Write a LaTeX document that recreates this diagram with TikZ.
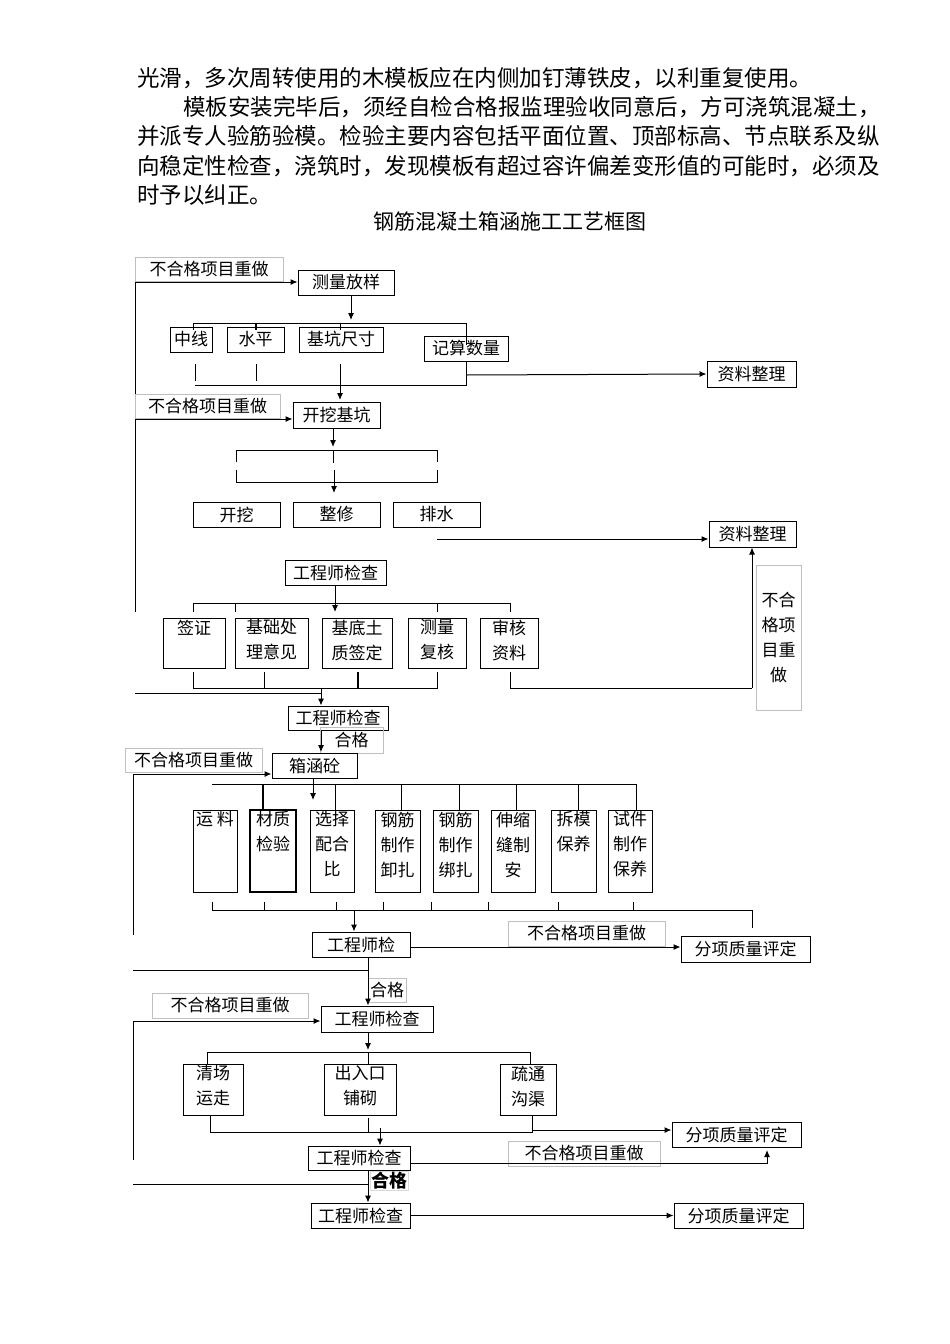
\documentclass[tikz,border=0pt]{standalone}
\usepackage{fontspec}
\setmainfont{Noto Sans CJK SC}
\usetikzlibrary{arrows.meta}
\tikzset{
 bx/.style={draw,line width=1pt,inner sep=0pt,font=\fontsize{17}{24}\selectfont,align=center},
 gl/.style={draw=black!25,line width=0.6pt,inner sep=0pt,font=\fontsize{17}{20}\selectfont},
 ln/.style={line width=0.8pt},
 ar/.style={line width=1pt,-{Latex[length=7pt,width=6pt]}},
 tx/.style={anchor=north,inner sep=2pt,font=\fontsize{17}{25}\selectfont,align=center},
 ptxt/.style={anchor=base west,inner sep=0pt,font=\fontsize{22.5}{28}\selectfont}
}
\newcommand{\bbox}[6]{\node[bx,minimum width=#4-#2,minimum height=#5-#3] (#1) at ({(#2+#4)/2},{(#3+#5)/2}) {#6};}
\newcommand{\tbox}[6]{\node[bx,minimum width=#4-#2,minimum height=#5-#3] (#1) at ({(#2+#4)/2},{(#3+#5)/2}) {};\node[tx] at (#1.north) {#6};}
\newcommand{\gbox}[6]{\node[gl,minimum width=#4-#2,minimum height=#5-#3] (#1) at ({(#2+#4)/2},{(#3+#5)/2}) {#6};}
\begin{document}
\begin{tikzpicture}[x=1pt,y=-1pt]
\XeTeXlinebreaklocale "zh"
\XeTeXlinebreakskip=0pt plus 1pt
\useasboundingbox[fill=white] (0,0) rectangle (950,1344);
% paragraph
\node[ptxt] (p1) at (137,86) {光滑，多次周转使用的木模板应在内侧加钉薄铁皮，以利重复使用。};
\node[ptxt] (p2) at (183,115) {\makebox[699pt][s]{模板安装完毕后，须经自检合格报监理验收同意后，方可浇筑混凝土，}};
\node[ptxt] (p3) at (137,144) {\makebox[745pt][s]{并派专人验筋验模。检验主要内容包括平面位置、顶部标高、节点联系及纵}};
\node[ptxt] (p4) at (137,174) {\makebox[745pt][s]{向稳定性检查，浇筑时，发现模板有超过容许偏差变形值的可能时，必须及}};
\node[ptxt] (p5) at (137,203) {时予以纠正。};
\node[inner sep=0pt,font=\fontsize{21}{26}\selectfont] (title) at (510,222) {钢筋混凝土箱涵施工工艺框图};

% ===== section 1
\gbox{g1}{135}{257}{283}{281}{不合格项目重做}
\bbox{clfy}{298}{270}{394}{295}{测量放样}
\draw[ln] (135,612) -- (135,282);
\draw[ar] (135,282) -- (clfy.west|-0,282);
\draw[ar] (clfy.south-|351,0) -- (351,320);
\draw[ln] (193,330) -- (193,323) -- (466,323) -- (466,345);
\draw[line width=1.6pt] (256,323) -- (256,330);
\draw[ln] (340,323) -- (340,330);
\bbox{zx}{170}{327}{212}{352}{中线}
\bbox{sp}{227}{327}{284}{352}{水平}
\bbox{jk}{299}{327}{383}{352}{基坑尺寸}
\bbox{js}{424}{336}{508}{361}{记算数量}
\bbox{zl1}{707}{361}{796}{387}{资料整理}
\draw[ln] (195,364) -- (195,381);
\draw[ln] (256,364) -- (256,381);
\draw[ln] (195,385) -- (466,385) -- (466,361);
\draw[ar] (466,375) -- (zl1.west);
\gbox{g2}{135}{394}{280}{418}{不合格项目重做}
\bbox{wk}{293}{402}{380}{428}{开挖基坑}
\draw[ar] (135,419) -- (wk.west|-0,419);
\draw[ar] (340,364) -- (340,400);
\draw[ar] (wk.south-|333,0) -- (333,447);
\draw[ln] (236,462) -- (236,450) -- (437,450) -- (437,462);
\draw[ln] (333,450) -- (333,463);
\draw[ln] (236,470) -- (236,482) -- (437,482) -- (437,470);
\draw[ar] (334,470) -- (334,493);
\bbox{kw}{193}{502}{280}{527}{开挖}
\bbox{zxu}{293}{502}{380}{527}{整修}
\bbox{ps}{393}{502}{480}{527}{排水}
\bbox{zl2}{709}{521}{796}{547}{资料整理}
\draw[ar] (437,539) -- (zl2.west|-0,539);
\bbox{gc1}{285}{560}{386}{585}{工程师检查}
\draw[ar] (gc1.south-|335,0) -- (335,612);
\draw[ln] (193,612) -- (193,603) -- (510,603) -- (510,612);
\draw[ln] (235,603) -- (235,612);
\draw[ln] (437,603) -- (437,612);
\tbox{qz}{163}{618}{225}{668}{签证}
\tbox{jc}{235}{618}{308}{668}{基础处\\理意见}
\tbox{jd}{322}{618}{392}{668}{基底土\\质签定}
\tbox{cl}{408}{618}{466}{668}{测量\\复核}
\tbox{sh}{480}{618}{538}{668}{审核\\资料}
\draw[ln] (193,672) -- (193,688) -- (437,688) -- (437,672);
\draw[ln] (264,672) -- (264,688);
\draw[line width=1.4pt] (358,672) -- (358,688);
\draw[ln] (510,672) -- (510,688) -- (752,688);
\draw[ar] (752,688) -- (zl2.south-|752,0);
\node[gl,minimum width=45,minimum height=145,font=\fontsize{17}{25}\selectfont,align=center] (gv) at (778.5,637.5) {不合\\格项\\目重\\做};
\draw[ln] (135,693) -- (321,693);
\bbox{gc2}{288}{706}{388}{730}{工程师检查}
\draw[ar] (321,688) -- (gc2.north-|321,0);

% ===== section 2
\gbox{hg1}{320}{727}{383}{753}{合格}
\draw[ar] (gc2.south-|321,0) -- (321,752);
\gbox{g3}{125}{748}{262}{772}{不合格项目重做}
\bbox{xh}{272}{753}{357}{778}{箱涵砼}
\draw[ln] (133,935) -- (133,774);
\draw[ar] (133,774) -- (xh.west|-0,774);
\draw[ar] (xh.south-|313,0) -- (313,800);
\draw[ln] (212,784) -- (637,784);
\foreach \x in {401,459,516,578,636} \draw[ln] (\x,784) -- (\x,810);
\draw[line width=1.4pt] (263,784) -- (263,810);
\draw[ln] (335,784) -- (335,810);
\tbox{yl}{193}{810}{237}{892}{运 料}
\node[draw,line width=1.8pt,minimum width=46,minimum height=82,inner sep=0pt] (cz) at (273,851) {};\node[tx] at (cz.north) {材质\\检验};
\tbox{xz}{310}{810}{354}{892}{选择\\配合\\比}
\tbox{gj1}{375}{810}{420}{892}{钢筋\\制作\\卸扎}
\tbox{gj2}{433}{810}{478}{892}{钢筋\\制作\\绑扎}
\tbox{ss}{491}{810}{535}{892}{伸缩\\缝制\\安}
\tbox{cm}{551}{810}{596}{892}{拆模\\保养}
\tbox{sj}{608}{810}{652}{892}{试件\\制作\\保养}
\foreach \x in {212,264,336,383,431,488,558,633} \draw[ln] (\x,902) -- (\x,910);
\draw[ln] (212,910) -- (752,910) -- (752,928);
\bbox{gc3}{312}{932}{410}{957}{工程师检}
\draw[ar] (354,910) -- (gc3.north-|354,0);
\gbox{g4}{508}{921}{665}{946}{不合格项目重做}
\bbox{fx1}{681}{936}{810}{962}{分项质量评定}
\draw[ar] (gc3.east|-0,947) -- (fx1.west|-0,947);
\draw[ln] (133,970) -- (368,970);
\gbox{hg2}{368}{978}{406}{1002}{合格}
\bbox{gc4}{321}{1006}{433}{1032}{工程师检查}
\draw[ar] (gc3.south-|368,0) -- (gc4.north-|368,0);
\gbox{g5}{152}{993}{308}{1018}{不合格项目重做}
\draw[ln] (133,1160) -- (133,1021);
\draw[ar] (133,1021) -- (gc4.west|-0,1021);
\draw[ar] (gc4.south-|368,0) -- (368,1050);
\draw[ln] (207,1064) -- (207,1052) -- (530,1052) -- (530,1064);
\draw[ln] (368,1052) -- (368,1064);
\tbox{qc}{183}{1064}{243}{1115}{清场\\运走}
\tbox{cr}{324}{1064}{396}{1115}{出入口\\铺砌}
\tbox{st}{500}{1064}{556}{1115}{疏通\\沟渠}
\draw[ln] (210,1115) -- (210,1132) -- (532,1132) -- (532,1115);
\draw[ln] (368,1118) -- (368,1132);
\bbox{fx2}{672}{1122}{801}{1147}{分项质量评定}
\draw[ar] (532,1130) -- (fx2.west|-0,1130);
\bbox{gc5}{308}{1146}{410}{1170}{工程师检查}
\draw[ar] (380,1128) -- (gc5.north-|380,0);
\gbox{g6}{508}{1141}{660}{1166}{不合格项目重做}
\draw[ar] (gc5.east|-0,1163) -- (767,1163) -- (767,1150);
\draw[ln] (133,1184) -- (368,1184);
\node[draw=black!15,inner sep=1pt,font=\fontsize{18}{20}\selectfont\bfseries] (hg3) at (389,1181) {合格};
\bbox{gc6}{311}{1203}{410}{1228}{工程师检查}
\draw[ar] (gc5.south-|368,0) -- (gc6.north-|368,0);
\bbox{fx3}{674}{1203}{803}{1228}{分项质量评定}
\draw[ar] (gc6.east) -- (fx3.west);
\end{tikzpicture}
\end{document}
